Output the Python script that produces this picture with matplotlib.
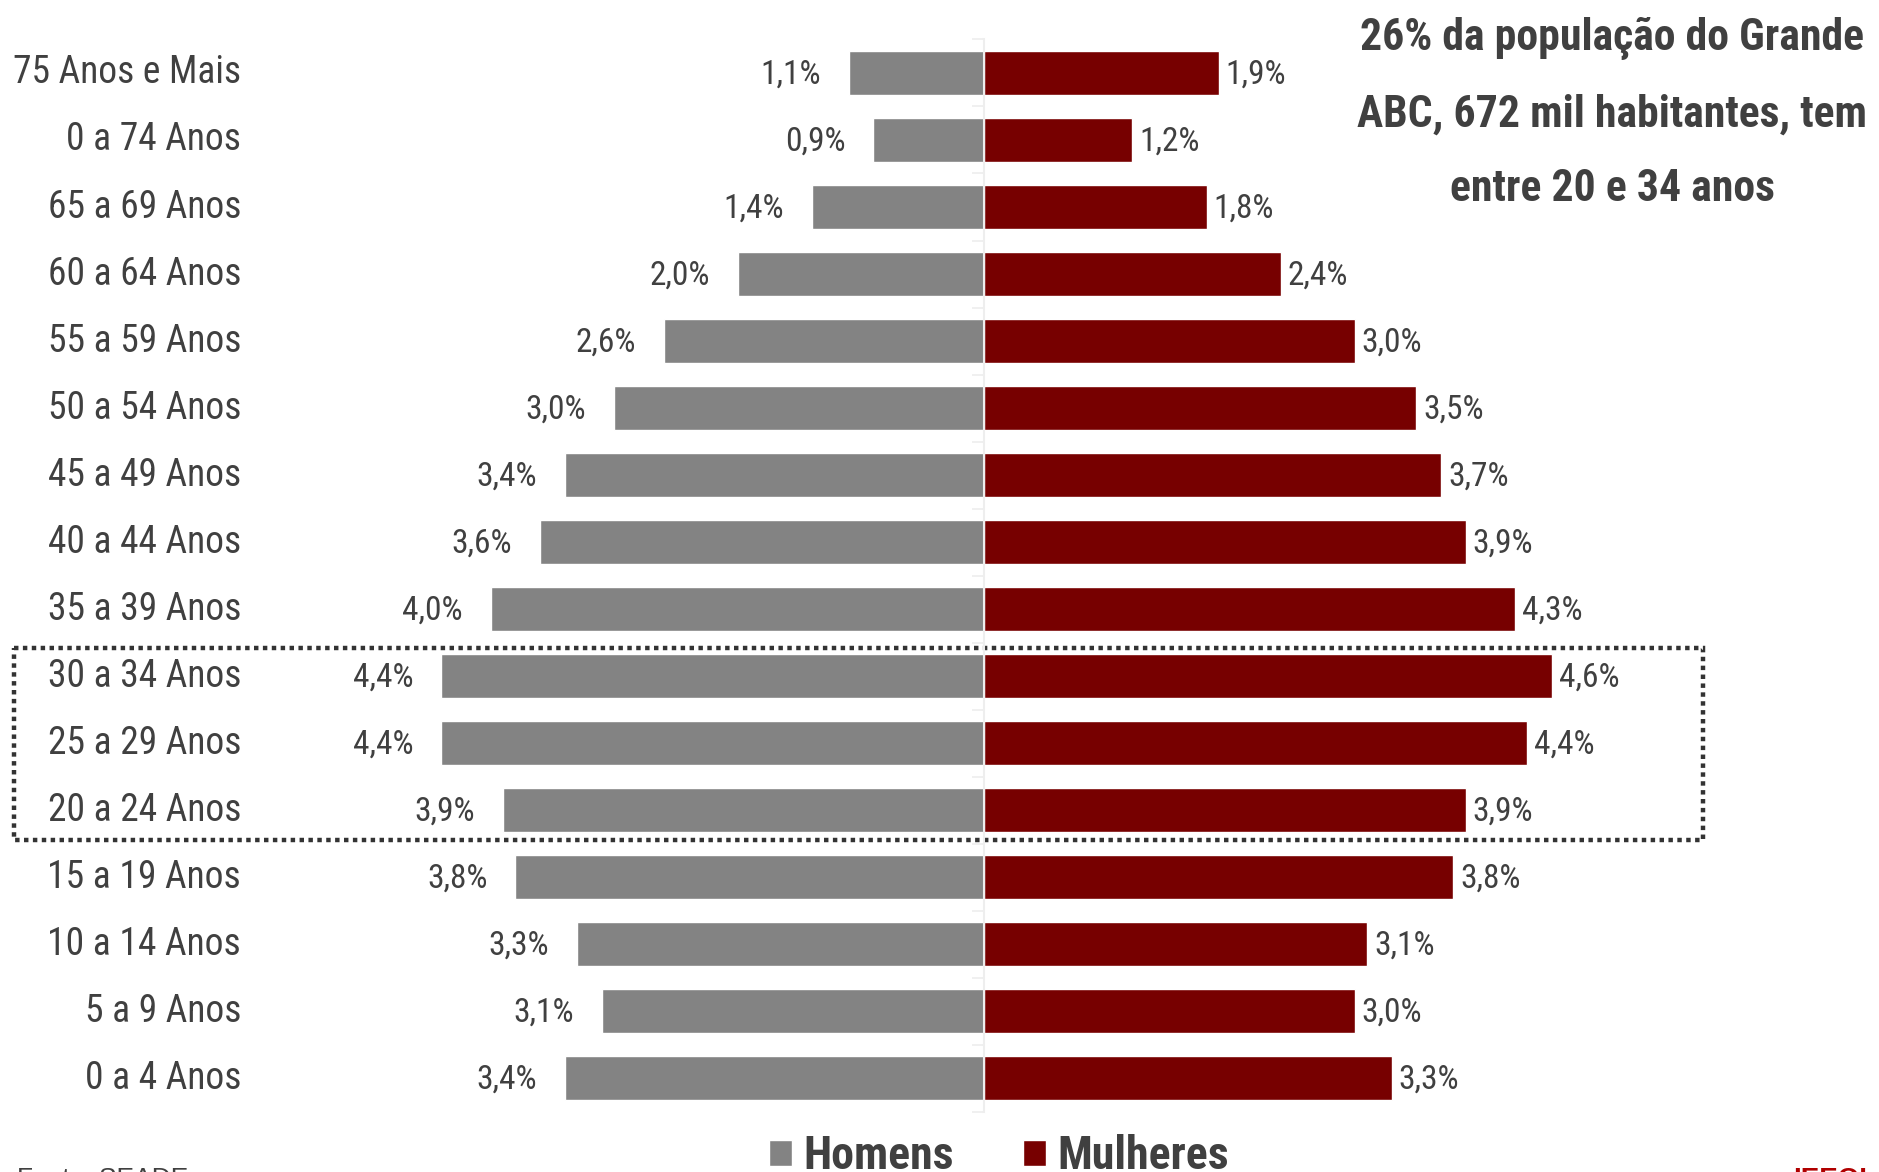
import matplotlib
matplotlib.use('Agg')
import matplotlib.pyplot as plt
import matplotlib.transforms as mtransforms
from matplotlib.patches import Rectangle
import numpy as np

# age groups, top to bottom (as written in the source chart)
faixas = ['75 Anos e Mais', '0 a 74 Anos', '65 a 69 Anos', '60 a 64 Anos', '55 a 59 Anos',
          '50 a 54 Anos', '45 a 49 Anos', '40 a 44 Anos', '35 a 39 Anos', '30 a 34 Anos',
          '25 a 29 Anos', '20 a 24 Anos', '15 a 19 Anos', '10 a 14 Anos', '5 a 9 Anos',
          '0 a 4 Anos']
# share of total population (%)
homens = [1.1, 0.9, 1.4, 2.0, 2.6, 3.0, 3.4, 3.6, 4.0, 4.4, 4.4, 3.9, 3.8, 3.3, 3.1, 3.4]
mulheres = [1.9, 1.2, 1.8, 2.4, 3.0, 3.5, 3.7, 3.9, 4.3, 4.6, 4.4, 3.9, 3.8, 3.1, 3.0, 3.3]
destaque = ['30 a 34 Anos', '25 a 29 Anos', '20 a 24 Anos']

titulo = ['26% da população do Grande', 'ABC, 672 mil habitantes, tem', 'entre 20 e 34 anos']
fonte = 'Fonte: SEADE'

cinza = '#838383'
vinho = '#770000'
texto = '#404040'
cond = ['Roboto Condensed', 'DejaVu Sans']

fig = plt.figure(figsize=(18.79, 11.72), dpi=100)
ax = fig.add_axes([0.1384, 0.0516, 0.7664, 0.9147])

y = np.arange(len(faixas))
bh = ax.barh(y, -np.array(homens), height=0.65, color=cinza, edgecolor='white', linewidth=1, label='Homens')
bm = ax.barh(y, mulheres, height=0.65, color=vinho, edgecolor='white', linewidth=1, label='Mulheres')

ax.set_xlim(-5.87, 5.80)
ax.set_ylim(len(faixas) - 0.5, -0.5)

# faint center axis with ticks between categories
for s in ['top', 'right', 'bottom']:
    ax.spines[s].set_visible(False)
ax.spines['left'].set_position(('data', 0))
ax.spines['left'].set_color('#eeeeee')
ax.spines['left'].set_linewidth(1.5)
ax.set_xticks([])
ax.set_yticks([])
ax.set_yticks(np.arange(-0.5, len(faixas)), minor=True)
ax.tick_params(axis='y', which='minor', length=9, width=1.2, color='#eeeeee', direction='out')

# category labels on the left
trans = mtransforms.blended_transform_factory(fig.transFigure, ax.transData)
for yi, f in zip(y, faixas):
    ax.text(241 / 1879, yi, f, transform=trans, ha='right', va='center',
            fontsize=27, color=texto, family=cond)

# value labels
for yi, h, m in zip(y, homens, mulheres):
    ax.annotate(f'{h:.1f}%'.replace('.', ','), (-h, yi), xytext=(-20, -1.5),
                textcoords='offset points', ha='right', va='center',
                fontsize=24, color=texto, family=cond)
    ax.annotate(f'{m:.1f}%'.replace('.', ','), (m, yi), xytext=(5, -1.5),
                textcoords='offset points', ha='left', va='center',
                fontsize=24, color=texto, family=cond)

# dotted box around 20-34
i0 = faixas.index(destaque[0])
i1 = faixas.index(destaque[-1])
box = Rectangle((14 / 1879, i0 - 0.42), (1703 - 14) / 1879, (i1 - i0) + 0.87,
                transform=trans, fill=False, edgecolor='#333333', linewidth=3.2,
                linestyle=(0, (1, 1)), clip_on=False)
ax.add_patch(box)

# title block
for linha, yb in zip(titulo, [50, 127, 201]):
    fig.text(1612 / 1879, 1 - yb / 1172, linha, ha='center', va='baseline',
             fontsize=31.5, fontweight='bold', color=texto, family=cond)

# legend
fig.legend(handles=[bh, bm], loc='center', bbox_to_anchor=(0.5317, 1 - 1156 / 1172),
           ncol=2, frameon=False, handlelength=0.5, handleheight=0.5,
           handletextpad=0.25, columnspacing=1.5, borderpad=0,
           prop={'family': cond, 'weight': 'bold', 'size': 33}, labelcolor=texto)

fig.text(17 / 1879, 1 - 1167 / 1172, fonte, ha='left', va='top', fontsize=19,
         color=texto, family=['Liberation Sans', 'DejaVu Sans'])
fig.text(1793 / 1879, 1 - 1167 / 1172, 'IEEOI', ha='left', va='top', fontsize=20,
         fontweight='bold', color='#b00000', family=['Liberation Sans', 'DejaVu Sans'])

fig.savefig('out.png', dpi=100, facecolor='white')
